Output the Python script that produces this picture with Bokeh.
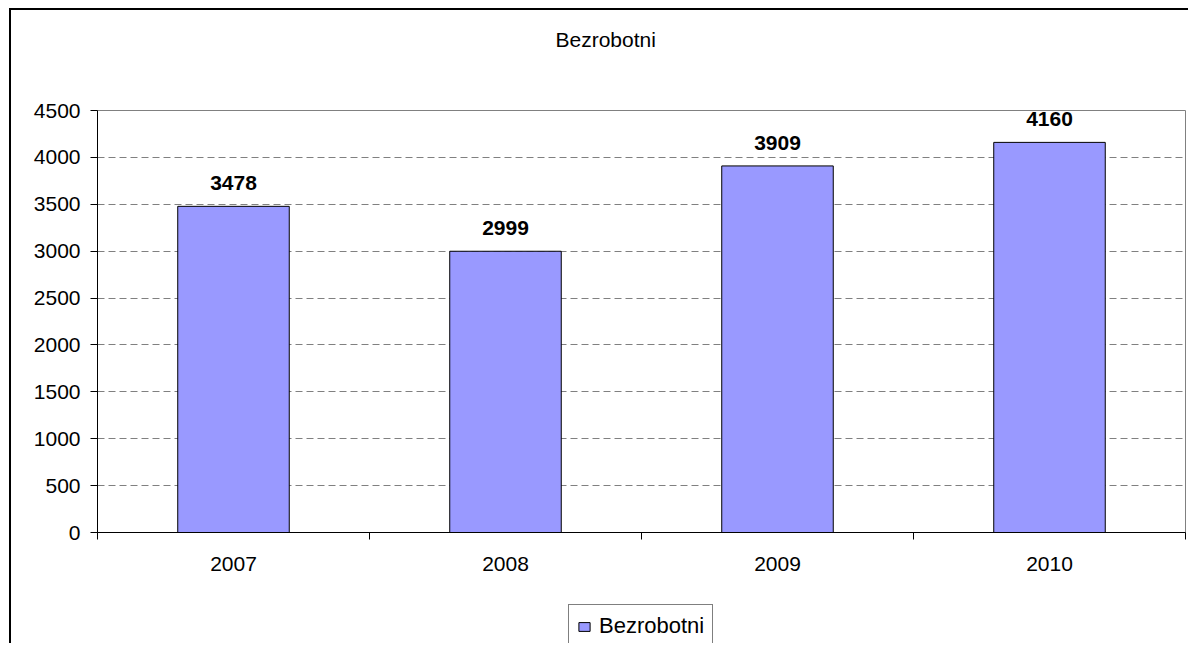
from bokeh.plotting import figure
from bokeh.layouts import column, row
from bokeh.models import (ColumnDataSource, FixedTicker, Range1d, LabelSet,
                          Legend, LegendItem, LinearAxis, Title, Spacer)
from bokeh.core.properties import value
from bokeh.embed import file_html
from bokeh.resources import INLINE

# ---- data ----
title_text = "Bezrobotni"
series_name = "Bezrobotni"
years = ["2007", "2008", "2009", "2010"]
values = [3478, 2999, 3909, 4160]
y_ticks = [0, 500, 1000, 1500, 2000, 2500, 3000, 3500, 4000, 4500]

FONT = "Liberation Sans"
BAR_COLOR = "#9999FF"

n = len(years)
centers = [i + 0.5 for i in range(n)]
bounds = [float(i) for i in range(n + 1)]

src = ColumnDataSource(dict(x=centers, v=values, lbl=[str(v) for v in values]))

p = figure(frame_width=1088, frame_height=422, output_backend="svg", toolbar_location=None,
           x_range=Range1d(0, n), y_range=Range1d(y_ticks[0], y_ticks[-1]),
           min_border_left=86, min_border_right=3, min_border_top=100,
           min_border_bottom=71)
p.background_fill_color = "white"
p.border_fill_color = "white"
p.outline_line_color = "#808080"
p.outline_line_width = 1


def spacer(px):
    # an invisible axis used only to reserve vertical room in a side panel
    t = centers[0]
    return LinearAxis(ticker=FixedTicker(ticks=[t], minor_ticks=[]),
                      major_label_overrides={t: ""}, major_label_text_font_size="1px",
                      major_label_standoff=0, major_tick_out=px, major_tick_in=0,
                      minor_tick_out=0, minor_tick_in=0,
                      axis_line_color=None, major_tick_line_color=None,
                      minor_tick_line_color=None)


bars = p.vbar(x="x", top="v", width=0.41, source=src, fill_color=BAR_COLOR,
              line_color="black", line_width=1)

# x axis: labels at centres, ticks at category boundaries
p.xaxis.ticker = FixedTicker(ticks=centers, minor_ticks=bounds)
p.xaxis.major_label_overrides = {c: y for c, y in zip(centers, years)}
p.xaxis.major_tick_out = 0
p.xaxis.major_tick_in = 0
p.xaxis.minor_tick_out = 7
p.xaxis.minor_tick_in = 0
p.xaxis.minor_tick_line_color = "black"
p.xaxis.major_label_standoff = 17

p.yaxis.ticker = FixedTicker(ticks=y_ticks)
p.yaxis.major_tick_out = 7
p.yaxis.major_tick_in = 0
p.yaxis.minor_tick_line_color = None
p.yaxis.major_label_standoff = 10

for ax in (p.xaxis, p.yaxis):
    ax.axis_line_color = "black"
    ax.axis_line_width = 1
    ax.major_tick_line_color = "black"
    ax.major_label_text_font = FONT
    ax.major_label_text_font_size = "21px"
    ax.major_label_text_color = "black"

p.xgrid.visible = False
p.ygrid.grid_line_color = "#808080"
p.ygrid.grid_line_dash = "7 4"
p.ygrid.grid_line_width = 1

labels = LabelSet(x="x", y="v", text="lbl", source=src, y_offset=16,
                  text_align="center", text_baseline="alphabetic",
                  text_font=value(FONT), text_font_style="bold",
                  text_font_size="21px", text_color="black")
p.add_layout(labels)

# title: spacer next to the frame, then the title above it
p.add_layout(spacer(60), "above")
title = Title(text=title_text, align="left", offset=458, vertical_align="bottom",
              standoff=0, text_font=FONT, text_font_size="21px",
              text_font_style="normal", text_color="black")
p.add_layout(title, "above")

# legend: a small figure of its own placed under the chart
lg = figure(width=150, height=40, output_backend="svg", toolbar_location=None,
            x_range=Range1d(0, 1), y_range=Range1d(0, 1), min_border=0,
            x_axis_location=None, y_axis_location=None)
lg.outline_line_color = None
lg.background_fill_color = "white"
lg.border_fill_color = "white"
lg.grid.visible = False
# swatch carrier: one bar outside the visible range, only its legend glyph shows
swatch = lg.vbar(x=[5.0], top=[1.0], width=0.4, fill_color=BAR_COLOR,
                 line_color="black", line_width=1)
legend = Legend(items=[LegendItem(label=series_name, renderers=[swatch])],
                location="top_left", orientation="horizontal",
                border_line_color="black", border_line_width=1,
                background_fill_color="white", background_fill_alpha=1,
                padding=8, margin=1, spacing=0,
                label_text_font=FONT, label_text_font_size="22px",
                label_text_color="black", label_standoff=8,
                glyph_width=14, glyph_height=11, label_height=24)
lg.add_layout(legend)

layout = column(p, row(Spacer(width=556, height=40), lg))
layout.styles = {"margin-left": "9px", "margin-top": "8px",
                 "border-left": "2px solid black", "border-top": "2px solid black"}

open("out.html", "w").write(file_html(layout, INLINE))
